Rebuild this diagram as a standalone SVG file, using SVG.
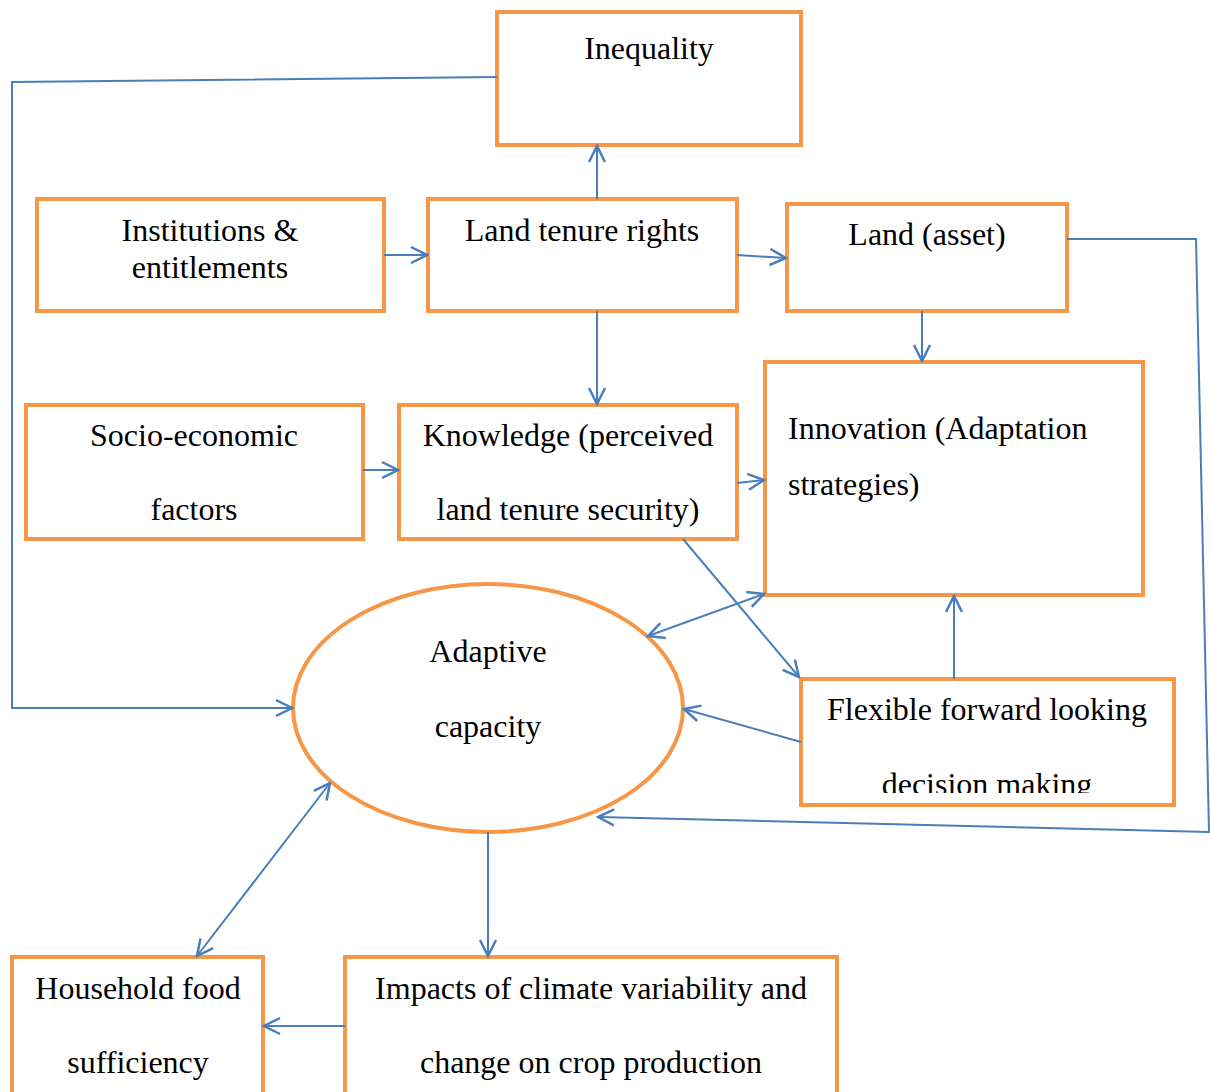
<svg xmlns="http://www.w3.org/2000/svg" width="1210" height="1092" viewBox="0 0 1210 1092">
<style>
.box{fill:#fff;stroke:#F79646;stroke-width:4}
.t{font-family:"Liberation Serif","Times New Roman",serif;font-size:32px;fill:#000}
.c{text-anchor:middle}
.ln{fill:none;stroke:#4A7EBB;stroke-width:2}
</style>
<defs>
<marker id="ah" viewBox="0 0 20 20" refX="18" refY="10" markerWidth="20" markerHeight="20" markerUnits="userSpaceOnUse" orient="auto-start-reverse">
<path d="M2,2 L18,10 L2,18" fill="none" stroke="#4A7EBB" stroke-width="2.5"/>
</marker>
<clipPath id="clipFlex"><rect x="800" y="679" width="376" height="114"/></clipPath>
</defs>
<rect width="1210" height="1092" fill="#fff"/>
<g id="inequality"><rect class="box" x="497" y="12" width="304" height="133"/><text class="t c" x="649" y="59">Inequality</text></g>
<g id="institutions"><rect class="box" x="37" y="199" width="347" height="112"/><text class="t c" x="210" y="241">Institutions &amp;</text><text class="t c" x="210" y="278">entitlements</text></g>
<g id="landtenure"><rect class="box" x="428" y="199" width="309" height="112"/><text class="t c" x="582" y="241">Land tenure rights</text></g>
<g id="landasset"><rect class="box" x="787" y="204" width="280" height="107"/><text class="t c" x="927" y="245">Land (asset)</text></g>
<g id="innovation"><rect class="box" x="765" y="362" width="378" height="233"/><text class="t" x="788" y="439">Innovation (Adaptation</text><text class="t" x="788" y="495">strategies)</text></g>
<g id="socio"><rect class="box" x="26" y="405" width="337" height="134"/><text class="t c" x="194" y="446">Socio-economic</text><text class="t c" x="194" y="520">factors</text></g>
<g id="knowledge"><rect class="box" x="399" y="405" width="338" height="134"/><text class="t c" x="568" y="446">Knowledge (perceived</text><text class="t c" x="568" y="520">land tenure security)</text></g>
<g id="adaptive"><ellipse cx="488" cy="708" rx="195" ry="124" fill="#fff" stroke="#F79646" stroke-width="4"/><text class="t c" x="488" y="662">Adaptive</text><text class="t c" x="488" y="737">capacity</text></g>
<g id="flexible"><rect class="box" x="801" y="679" width="373" height="126"/><text class="t c" x="987" y="720">Flexible forward looking</text><text class="t c" x="987" y="795" clip-path="url(#clipFlex)">decision making</text></g>
<g id="household"><rect class="box" x="12" y="957" width="251" height="140"/><text class="t c" x="138" y="999">Household food</text><text class="t c" x="138" y="1073">sufficiency</text></g>
<g id="impacts"><rect class="box" x="345" y="957" width="492" height="140"/><text class="t c" x="591" y="999">Impacts of climate variability and</text><text class="t c" x="591" y="1073">change on crop production</text></g>
<g id="connectors">
<polyline class="ln" points="497,77 12,82 12,708 292,708" marker-end="url(#ah)"/>
<line class="ln" x1="597" y1="199" x2="597" y2="146" marker-end="url(#ah)"/>
<line class="ln" x1="384" y1="255" x2="427" y2="255" marker-end="url(#ah)"/>
<line class="ln" x1="737" y1="255" x2="786" y2="258" marker-end="url(#ah)"/>
<polyline class="ln" points="1067,239 1196,239 1209,832 598,817" marker-end="url(#ah)"/>
<line class="ln" x1="922" y1="311" x2="922" y2="361" marker-end="url(#ah)"/>
<line class="ln" x1="597" y1="311" x2="597" y2="404" marker-end="url(#ah)"/>
<line class="ln" x1="363" y1="470" x2="398" y2="470" marker-end="url(#ah)"/>
<line class="ln" x1="737" y1="483" x2="764" y2="480" marker-end="url(#ah)"/>
<line class="ln" x1="683" y1="539" x2="799" y2="677" marker-end="url(#ah)"/>
<line class="ln" x1="648" y1="636" x2="764" y2="594" marker-start="url(#ah)" marker-end="url(#ah)"/>
<line class="ln" x1="954" y1="679" x2="954" y2="596" marker-end="url(#ah)"/>
<line class="ln" x1="801" y1="742" x2="684" y2="709" marker-end="url(#ah)"/>
<line class="ln" x1="197" y1="956" x2="330" y2="783" marker-start="url(#ah)" marker-end="url(#ah)"/>
<line class="ln" x1="488" y1="832" x2="488" y2="956" marker-end="url(#ah)"/>
<line class="ln" x1="345" y1="1026" x2="264" y2="1026" marker-end="url(#ah)"/>
</g>
</svg>
